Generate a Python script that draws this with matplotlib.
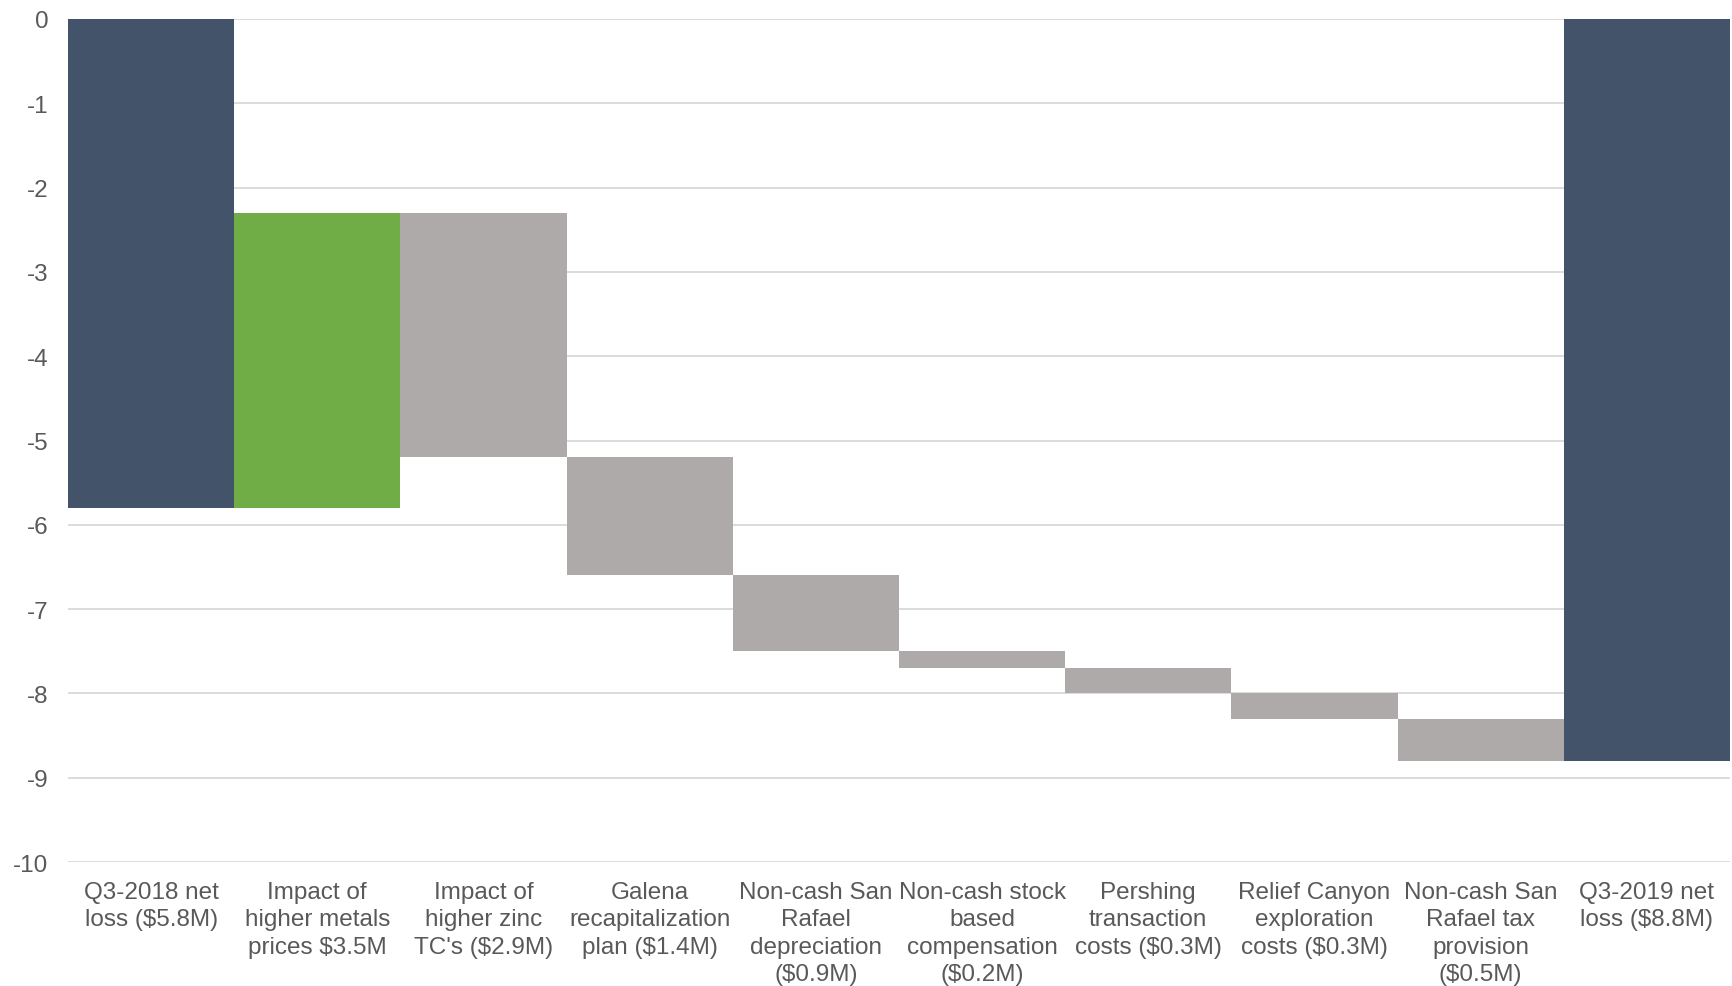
import matplotlib.pyplot as plt

labels = ["Q3-2018 net\nloss ($5.8M)", "Impact of\nhigher metals\nprices $3.5M",
          "Impact of\nhigher zinc\nTC's ($2.9M)", "Galena\nrecapitalization\nplan ($1.4M)",
          "Non-cash San\nRafael\ndepreciation\n($0.9M)", "Non-cash stock\nbased\ncompensation\n($0.2M)",
          "Pershing\ntransaction\ncosts ($0.3M)", "Relief Canyon\nexploration\ncosts ($0.3M)",
          "Non-cash San\nRafael tax\nprovision\n($0.5M)", "Q3-2019 net\nloss ($8.8M)"]
start = -5.8
changes = [3.5, -2.9, -1.4, -0.9, -0.2, -0.3, -0.3, -0.5]
end = -8.8

navy = "#435369"
green = "#70AD47"
gray = "#AEAAAA"
txt = "#595959"

plt.rcParams['font.family'] = ['Liberation Sans', 'DejaVu Sans']
plt.rcParams['axes.unicode_minus'] = False

fig = plt.figure(figsize=(17.33, 9.87), dpi=100)
ax = fig.add_axes([68 / 1733, 1 - 863 / 987, (1730 - 68) / 1733, (863 - 20) / 987])

bottoms = [0]
heights = [start]
colors = [navy]
level = start
for c in changes:
    bottoms.append(level)
    heights.append(c)
    colors.append(green if c > 0 else gray)
    level += c
bottoms.append(0)
heights.append(end)
colors.append(navy)

x = range(len(labels))
ax.bar(x, heights, bottom=bottoms, width=1.0, color=colors, zorder=2)

ax.set_xlim(-0.5, len(labels) - 0.5)
ax.set_ylim(-10, 0)
ax.set_yticks(range(-10, 1))
ax.set_xticks(list(x))
ax.set_xticklabels(labels, linespacing=1.32)
ax.grid(axis='y', color="#D9D9D9", linewidth=1.3, zorder=0)
for s in ax.spines.values():
    s.set_visible(False)
ax.tick_params(axis='both', length=0, labelsize=17.5, colors=txt)
ax.tick_params(axis='y', pad=14)
ax.tick_params(axis='x', pad=13.5)

fig.savefig("out.png", dpi=100)
